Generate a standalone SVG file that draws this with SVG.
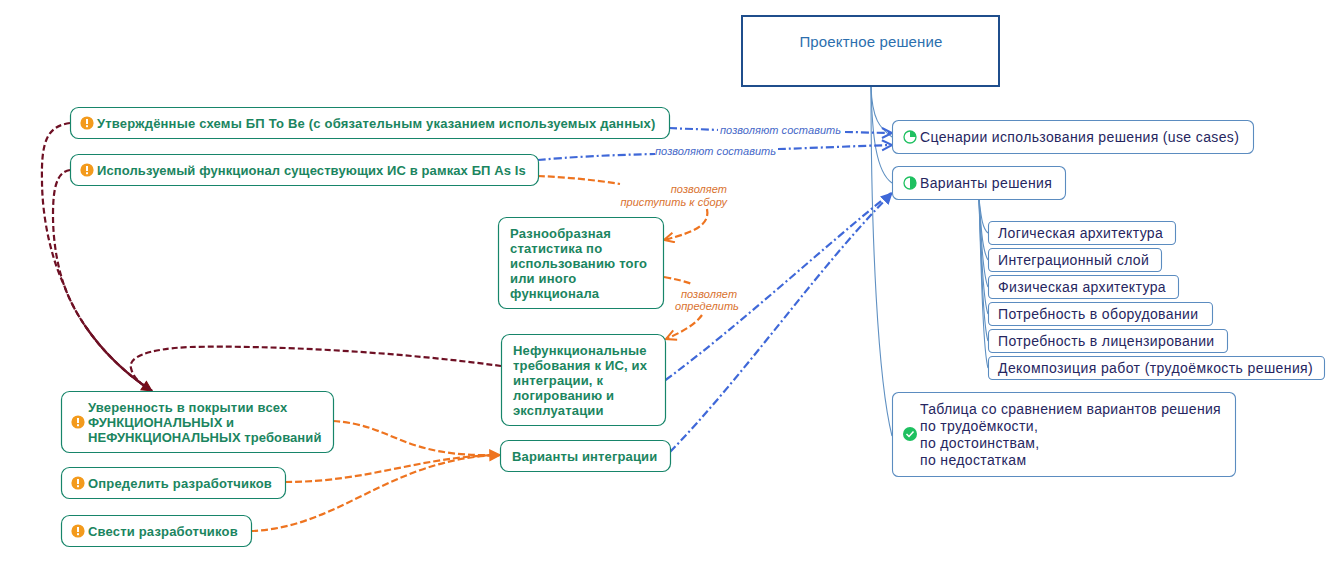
<svg xmlns="http://www.w3.org/2000/svg" width="1341" height="563" viewBox="0 0 1341 563">
<style>
text{font-family:"Liberation Sans",Arial,sans-serif}
.g rect{fill:#fff;stroke:#17856a;stroke-width:1.2}
.g text{font-size:13px;font-weight:bold;fill:#1b8560;letter-spacing:.18px}
.b rect{fill:#fff;stroke:#5b8cc0;stroke-width:1.1}
.b text{font-size:14px;fill:#26265f;letter-spacing:.36px}
.lbl{font-size:11px;font-style:italic;letter-spacing:.05px}
.o{fill:#d9722f}.bl{fill:#4668c8}
.tree path{fill:none;stroke:#5f90c2;stroke-width:1.1}
.con path{fill:none;stroke-width:2.2}
.dr{stroke:#6e1024;stroke-dasharray:6 3}
.or{stroke:#ee7420;stroke-dasharray:7 3}
.blu{stroke:#3f68d8;stroke-dasharray:8 3 2 3}
.warn circle{fill:#f39a1c}.warn rect{fill:#fff;stroke:none}
</style>
<defs>
<marker id="aB" markerUnits="userSpaceOnUse" markerWidth="14" markerHeight="14" refX="11" refY="6" orient="auto"><path d="M1 1L11 6L1 11" fill="none" stroke="#3f68d8" stroke-width="2"/></marker>
<marker id="aBF" markerUnits="userSpaceOnUse" markerWidth="14" markerHeight="14" refX="11" refY="6" orient="auto"><path d="M0 0L12 6L0 12Z" fill="#3f68d8"/></marker>
<marker id="aO" markerUnits="userSpaceOnUse" markerWidth="14" markerHeight="14" refX="11" refY="6" orient="auto"><path d="M1 1L11 6L1 11" fill="none" stroke="#ee7420" stroke-width="2"/></marker>
<marker id="aOF" markerUnits="userSpaceOnUse" markerWidth="14" markerHeight="14" refX="11" refY="6" orient="auto"><path d="M1 1L11 6L1 11Z" fill="#ee7420" stroke="#ee7420" stroke-width="1.5"/></marker>
<marker id="aR" markerUnits="userSpaceOnUse" markerWidth="14" markerHeight="14" refX="11" refY="6" orient="auto"><path d="M1 1L11 6L1 11Z" fill="#7a0c14" stroke="#7a0c14"/></marker>
<g id="w" class="warn"><circle r="6.6"/><rect x="-1" y="-4" width="2" height="5"/><rect x="-1" y="2.200" width="2" height="2"/></g>
</defs>

<g id="connectors">
<g class="tree">
<path d="M871 86C872 120 880 128 892 137"/>
<path d="M871 86C872 135 876 172 892 183"/>
<path d="M871 86C871 240 878 380 892 436"/>
<path d="M979 199C981 215 982 228 988 233"/>
<path d="M979 199C981 225 982 250 988 260"/>
<path d="M979 199C981 235 983 275 988 287"/>
<path d="M979 199C981 245 983 300 988 314"/>
<path d="M979 199C981 255 983 325 988 341"/>
<path d="M979 199C981 265 983 350 988 368"/>
</g>
<g class="con">
<path class="dr" d="M70 123C48 126 41 140 42 180C42 215 50 255 64 285C78 325 112 365 152 391"/>
<path class="dr" d="M70 170C56 172 53 190 53 215C53 240 57 265 64 285C78 325 112 365 152 391" marker-end="url(#aR)"/>
<path d="M64 285C78 325 112 365 152 391" stroke="#6e1024" stroke-dasharray="0 45 200"/>
<path class="dr" d="M501 366C400 352 270 345 190 347C145 349 128 358 131 368C133 378 142 385 152 391"/>
<path class="or" d="M333 421C395 425 400 458 500 455"/>
<path class="or" d="M285 482C370 482 420 456 500 455"/>
<path class="or" d="M251 531C340 528 390 458 500 455" marker-end="url(#aOF)"/>
<path class="or" d="M538 176C565 177 595 180 620 184"/>
<path class="or" d="M707 209C710 225 695 232 664 240" marker-end="url(#aO)"/>
<path class="or" d="M664 277C675 279 684 281 692 284"/>
<path class="or" d="M702 315C695 325 680 333 666 339" marker-end="url(#aO)"/>
<path class="blu" d="M669 128C685 129 700 129 718 130"/>
<path class="blu" d="M845 132C860 132 875 133 892 133" marker-end="url(#aB)"/>
<path class="blu" d="M538 160C570 157 610 155 655 154"/>
<path class="blu" d="M778 149C815 148 855 146 892 145" marker-end="url(#aB)"/>
<path class="blu" d="M665.500 380C740 325 820 250 891 193"/>
<path class="blu" d="M670 452C745 375 820 265 892 193" marker-end="url(#aBF)"/>
</g>
<g>
<text class="lbl bl" x="720" y="134">позволяют составить</text>
<text class="lbl bl" x="655" y="155">позволяют составить</text>
<text class="lbl o" x="727" y="192.500" text-anchor="end">позволяет</text>
<text class="lbl o" x="727" y="206" text-anchor="end">приступить к сбору</text>
<text class="lbl o" x="709" y="298" text-anchor="middle">позволяет</text>
<text class="lbl o" x="707" y="310" text-anchor="middle">определить</text>
</g>
</g>

<g id="root"><rect x="742" y="16" width="257" height="70" fill="#fff" stroke="#1f4e8c" stroke-width="2"/><text x="871" y="47" font-size="15" letter-spacing=".15" fill="#2c6fae" text-anchor="middle">Проектное решение</text></g>

<g id="n1" class="g"><rect x="70.500" y="107.500" width="599" height="31" rx="8"/><use href="#w" x="87" y="123"/><text x="97" y="127.500" style="letter-spacing:.2px">Утверждённые схемы БП То Ве (с обязательным указанием используемых данных)</text></g>
<g id="n2" class="g"><rect x="70.500" y="154.500" width="468" height="31" rx="8"/><use href="#w" x="87" y="170"/><text x="97" y="174.500" style="letter-spacing:.1px">Используемый функционал существующих ИС в рамках БП As Is</text></g>
<g id="n3" class="g"><rect x="498.500" y="217.500" width="165" height="91" rx="8"/><text x="510" y="238">Разнообразная</text><text x="510" y="253">статистика по</text><text x="510" y="268">использованию того</text><text x="510" y="283">или иного</text><text x="510" y="298">функционала</text></g>
<g id="n4" class="g"><rect x="501.500" y="334.500" width="164" height="91" rx="8"/><text x="513" y="355">Нефункциональные</text><text x="513" y="370">требования к ИС, их</text><text x="513" y="385">интеграции, к</text><text x="513" y="400">логированию и</text><text x="513" y="415">эксплуатации</text></g>
<g id="n5" class="g"><rect x="500.500" y="440.500" width="170" height="31" rx="8"/><text x="512" y="461" style="letter-spacing:.14px">Варианты интеграции</text></g>
<g id="n6" class="g"><rect x="61.500" y="391.500" width="272" height="61" rx="8"/><use href="#w" x="78" y="422"/><text x="88" y="412">Уверенность в покрытии всех</text><text x="88" y="427" style="letter-spacing:.09px">ФУНКЦИОНАЛЬНЫХ и</text><text x="88" y="442" style="letter-spacing:.09px">НЕФУНКЦИОНАЛЬНЫХ требований</text></g>
<g id="n7" class="g"><rect x="61.500" y="467.500" width="224" height="31" rx="8"/><use href="#w" x="78" y="483"/><text x="88" y="488">Определить разработчиков</text></g>
<g id="n8" class="g"><rect x="61.500" y="515.500" width="190" height="31" rx="8"/><use href="#w" x="78" y="531"/><text x="88" y="536">Свести разработчиков</text></g>

<g id="n9" class="b"><rect x="892.500" y="120.500" width="361" height="33" rx="6"/><circle cx="910" cy="137" r="6" fill="#fff" stroke="#1ec060" stroke-width="1.300"/><path d="M910 137V131A6 6 0 0 1 916 137Z" fill="#1ec060"/><text x="920" y="142">Сценарии использования решения (use cases)</text></g>
<g id="n10" class="b"><rect x="892.500" y="166.500" width="173" height="33" rx="6"/><circle cx="910" cy="183" r="6" fill="#fff" stroke="#1ec060" stroke-width="1.300"/><path d="M910 177A6 6 0 0 1 910 189Z" fill="#1ec060"/><text x="920" y="188">Варианты решения</text></g>
<g id="n11" class="b"><rect x="988.500" y="221.500" width="187" height="23" rx="4"/><text x="998" y="238">Логическая архитектура</text></g>
<g id="n12" class="b"><rect x="988.500" y="248.500" width="173" height="23" rx="4"/><text x="998" y="265">Интеграционный слой</text></g>
<g id="n13" class="b"><rect x="988.500" y="275.500" width="190" height="23" rx="4"/><text x="998" y="292">Физическая архитектура</text></g>
<g id="n14" class="b"><rect x="988.500" y="302.500" width="224" height="23" rx="4"/><text x="998" y="319">Потребность в оборудовании</text></g>
<g id="n15" class="b"><rect x="988.500" y="329.500" width="239" height="23" rx="4"/><text x="998" y="346">Потребность в лицензировании</text></g>
<g id="n16" class="b"><rect x="988.500" y="356.500" width="336" height="23" rx="4"/><text x="998" y="373" style="letter-spacing:.4px">Декомпозиция работ (трудоёмкость решения)</text></g>
<g id="n17" class="b"><rect x="892.500" y="392.500" width="343" height="84" rx="6"/><circle cx="910" cy="434" r="7" fill="#1ec060"/><path d="M906.500 434L909 436.500L913.500 431.500" fill="none" stroke="#fff" stroke-width="1.500"/><text x="920" y="414" style="letter-spacing:.3px">Таблица со сравнением вариантов решения</text><text x="920" y="431">по трудоёмкости,</text><text x="920" y="448">по достоинствам,</text><text x="920" y="465">по недостаткам</text></g>
</svg>
